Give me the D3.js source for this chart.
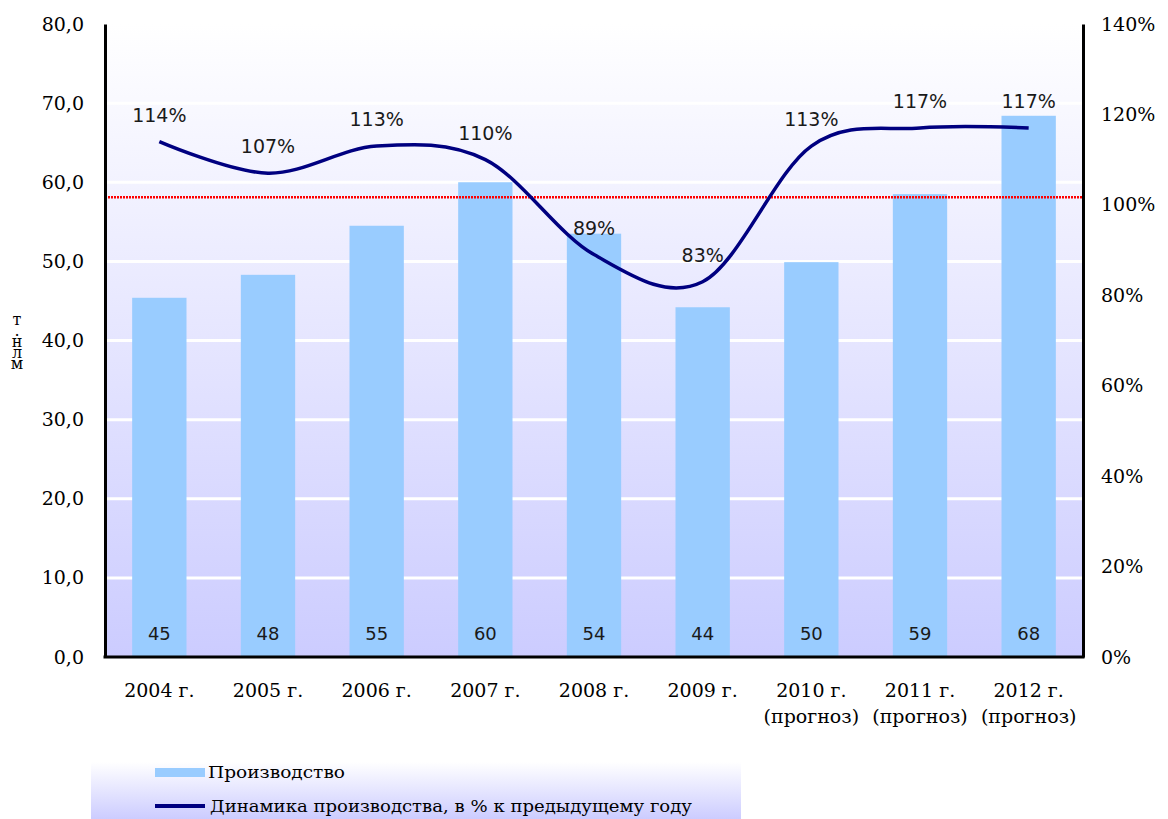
<!DOCTYPE html>
<html>
<head>
<meta charset="utf-8">
<script src="https://cdn.jsdelivr.net/npm/d3@7"></script>
<style>
  body { margin: 0; background: #ffffff; }
  svg { display: block; }
  .unit { writing-mode: vertical-lr; text-orientation: upright; }
</style>
</head>
<body>
<svg id="chart" width="1168" height="819"></svg>
<script>
// Production volume by year and year-over-year growth
const categories = ["2004 г.", "2005 г.", "2006 г.", "2007 г.", "2008 г.", "2009 г.", "2010 г.", "2011 г.", "2012 г."];
const categoryNotes = ["", "", "", "", "", "", "(прогноз)", "(прогноз)", "(прогноз)"];
const production = [45.4, 48.3, 54.5, 60.0, 53.5, 44.2, 49.9, 58.5, 68.4];
const growth = [114, 107, 113, 110, 89, 83, 113, 117, 117];
const leftTicks = [0, 10, 20, 30, 40, 50, 60, 70, 80];
const rightTicks = [0, 20, 40, 60, 80, 100, 120, 140];
const referenceLevel = 101.7;
const unitLabel = "т.нлм";
const legendLabels = ["Производство", "Динамика производства, в % к предыдущему году"];

const svg = d3.select("#chart");
const plot = { left: 105, right: 1083, top: 24, bottom: 657 };

const serif = "'DejaVu Serif', serif";
const sans = "'DejaVu Sans', sans-serif";

const x = d3.scaleBand()
  .domain(categories)
  .range([plot.left, plot.right])
  .paddingInner(0.5)
  .paddingOuter(0.25);

const y = d3.scaleLinear().domain([0, 80]).range([plot.bottom, plot.top]);
const yPct = d3.scaleLinear().domain([0, 140]).range([plot.bottom, plot.top]);

// gradients
const defs = svg.append("defs");
const grad = defs.append("linearGradient")
  .attr("id", "plotFill").attr("x1", 0).attr("y1", 0).attr("x2", 0).attr("y2", 1);
grad.append("stop").attr("offset", "0%").attr("stop-color", "#ffffff");
grad.append("stop").attr("offset", "100%").attr("stop-color", "#ccccff");

const legGrad = defs.append("linearGradient")
  .attr("id", "legendFill").attr("x1", 0).attr("y1", 0).attr("x2", 0).attr("y2", 1);
legGrad.append("stop").attr("offset", "0%").attr("stop-color", "#ffffff");
legGrad.append("stop").attr("offset", "100%").attr("stop-color", "#ccccff");

// plot background
svg.append("rect")
  .attr("x", plot.left).attr("y", plot.top)
  .attr("width", plot.right - plot.left).attr("height", plot.bottom - plot.top)
  .attr("fill", "url(#plotFill)");

// horizontal gridlines
svg.append("g").selectAll("line")
  .data(leftTicks.filter(d => d > 0 && d < 80))
  .join("line")
  .attr("x1", plot.left).attr("x2", plot.right)
  .attr("y1", d => y(d)).attr("y2", d => y(d))
  .attr("stroke", "#ffffff").attr("stroke-width", 3);

// bars
svg.append("g").selectAll("rect")
  .data(production)
  .join("rect")
  .attr("x", (d, i) => x(categories[i]))
  .attr("y", d => y(d))
  .attr("width", x.bandwidth())
  .attr("height", d => y(0) - y(d))
  .attr("fill", "#99ccff");

// bar value labels
svg.append("g").selectAll("text")
  .data(production)
  .join("text")
  .attr("x", (d, i) => x(categories[i]) + x.bandwidth() / 2)
  .attr("y", 640)
  .attr("text-anchor", "middle")
  .attr("font-family", sans).attr("font-size", 18).attr("fill", "#1a1a1a")
  .text(d => Math.round(d));

// reference line
svg.append("line")
  .attr("x1", plot.left).attr("x2", plot.right)
  .attr("y1", yPct(referenceLevel)).attr("y2", yPct(referenceLevel))
  .attr("stroke", "#ff0000").attr("stroke-width", 2.5)
  .attr("stroke-dasharray", "2 1");

// growth line
const cx = i => x(categories[i]) + x.bandwidth() / 2;
const line = d3.line()
  .x((d, i) => cx(i))
  .y(d => yPct(d))
  .curve(d3.curveCardinal.tension(0));

svg.append("path")
  .datum(growth)
  .attr("d", line)
  .attr("fill", "none")
  .attr("stroke", "#000080")
  .attr("stroke-width", 3.5)
  .attr("stroke-linejoin", "round");

// growth labels
svg.append("g").selectAll("text")
  .data(growth)
  .join("text")
  .attr("x", (d, i) => cx(i))
  .attr("y", d => yPct(d) - 20)
  .attr("text-anchor", "middle")
  .attr("font-family", sans).attr("font-size", 19).attr("fill", "#1a1a1a")
  .text(d => d + "%");

// left axis
const leftAxis = d3.axisLeft(y)
  .tickValues(leftTicks)
  .tickSize(0)
  .tickPadding(21)
  .tickFormat(d => d3.format(".1f")(d).replace(".", ","));
const gl = svg.append("g").attr("transform", `translate(${plot.left},0)`).call(leftAxis);
gl.select(".domain").attr("stroke", "#000").attr("stroke-width", 3);
gl.selectAll("text").attr("font-family", serif).attr("font-size", 19).attr("fill", "#000");

// right axis
const rightAxis = d3.axisRight(yPct)
  .tickValues(rightTicks)
  .tickSize(0)
  .tickPadding(18)
  .tickFormat(d => d + "%");
const gr = svg.append("g").attr("transform", `translate(${plot.right},0)`).call(rightAxis);
gr.select(".domain").attr("stroke", "#000").attr("stroke-width", 3);
gr.selectAll("text").attr("font-family", serif).attr("font-size", 19).attr("fill", "#000");

// bottom axis
const bottomAxis = d3.axisBottom(x).tickSize(0).tickFormat("");
const gb = svg.append("g").attr("transform", `translate(0,${plot.bottom})`).call(bottomAxis);
gb.select(".domain").attr("stroke", "#000").attr("stroke-width", 3)
  .attr("d", `M${plot.left - 1.5},0H${plot.right + 1.5}`);

// category labels
const catG = svg.append("g");
categories.forEach((c, i) => {
  const t = catG.append("text")
    .attr("x", cx(i)).attr("y", 697)
    .attr("text-anchor", "middle")
    .attr("font-family", serif).attr("font-size", 19).attr("fill", "#000");
  t.append("tspan").attr("x", cx(i)).text(c);
  if (categoryNotes[i]) {
    t.append("tspan").attr("x", cx(i)).attr("dy", 26).text(categoryNotes[i]);
  }
});

// unit label, stacked upright
svg.append("text")
  .attr("class", "unit")
  .attr("x", 17).attr("y", 310)
  .attr("font-family", serif).attr("font-size", 16).attr("fill", "#000")
  .attr("letter-spacing", -8)
  .text(unitLabel);

// legend
const leg = svg.append("g");
leg.append("rect")
  .attr("x", 91).attr("y", 762).attr("width", 650).attr("height", 57)
  .attr("fill", "url(#legendFill)");
leg.append("rect")
  .attr("x", 155).attr("y", 768).attr("width", 50).attr("height", 9)
  .attr("fill", "#99ccff");
leg.append("line")
  .attr("x1", 155).attr("x2", 205).attr("y1", 806).attr("y2", 806)
  .attr("stroke", "#000080").attr("stroke-width", 4);
leg.append("text")
  .attr("x", 208).attr("y", 778)
  .attr("font-family", serif).attr("font-size", 17).attr("fill", "#000")
  .attr("textLength", 137).attr("lengthAdjust", "spacingAndGlyphs")
  .text(legendLabels[0]);
leg.append("text")
  .attr("x", 210).attr("y", 812)
  .attr("font-family", serif).attr("font-size", 17).attr("fill", "#000")
  .attr("textLength", 482).attr("lengthAdjust", "spacingAndGlyphs")
  .text(legendLabels[1]);
</script>
</body>
</html>
